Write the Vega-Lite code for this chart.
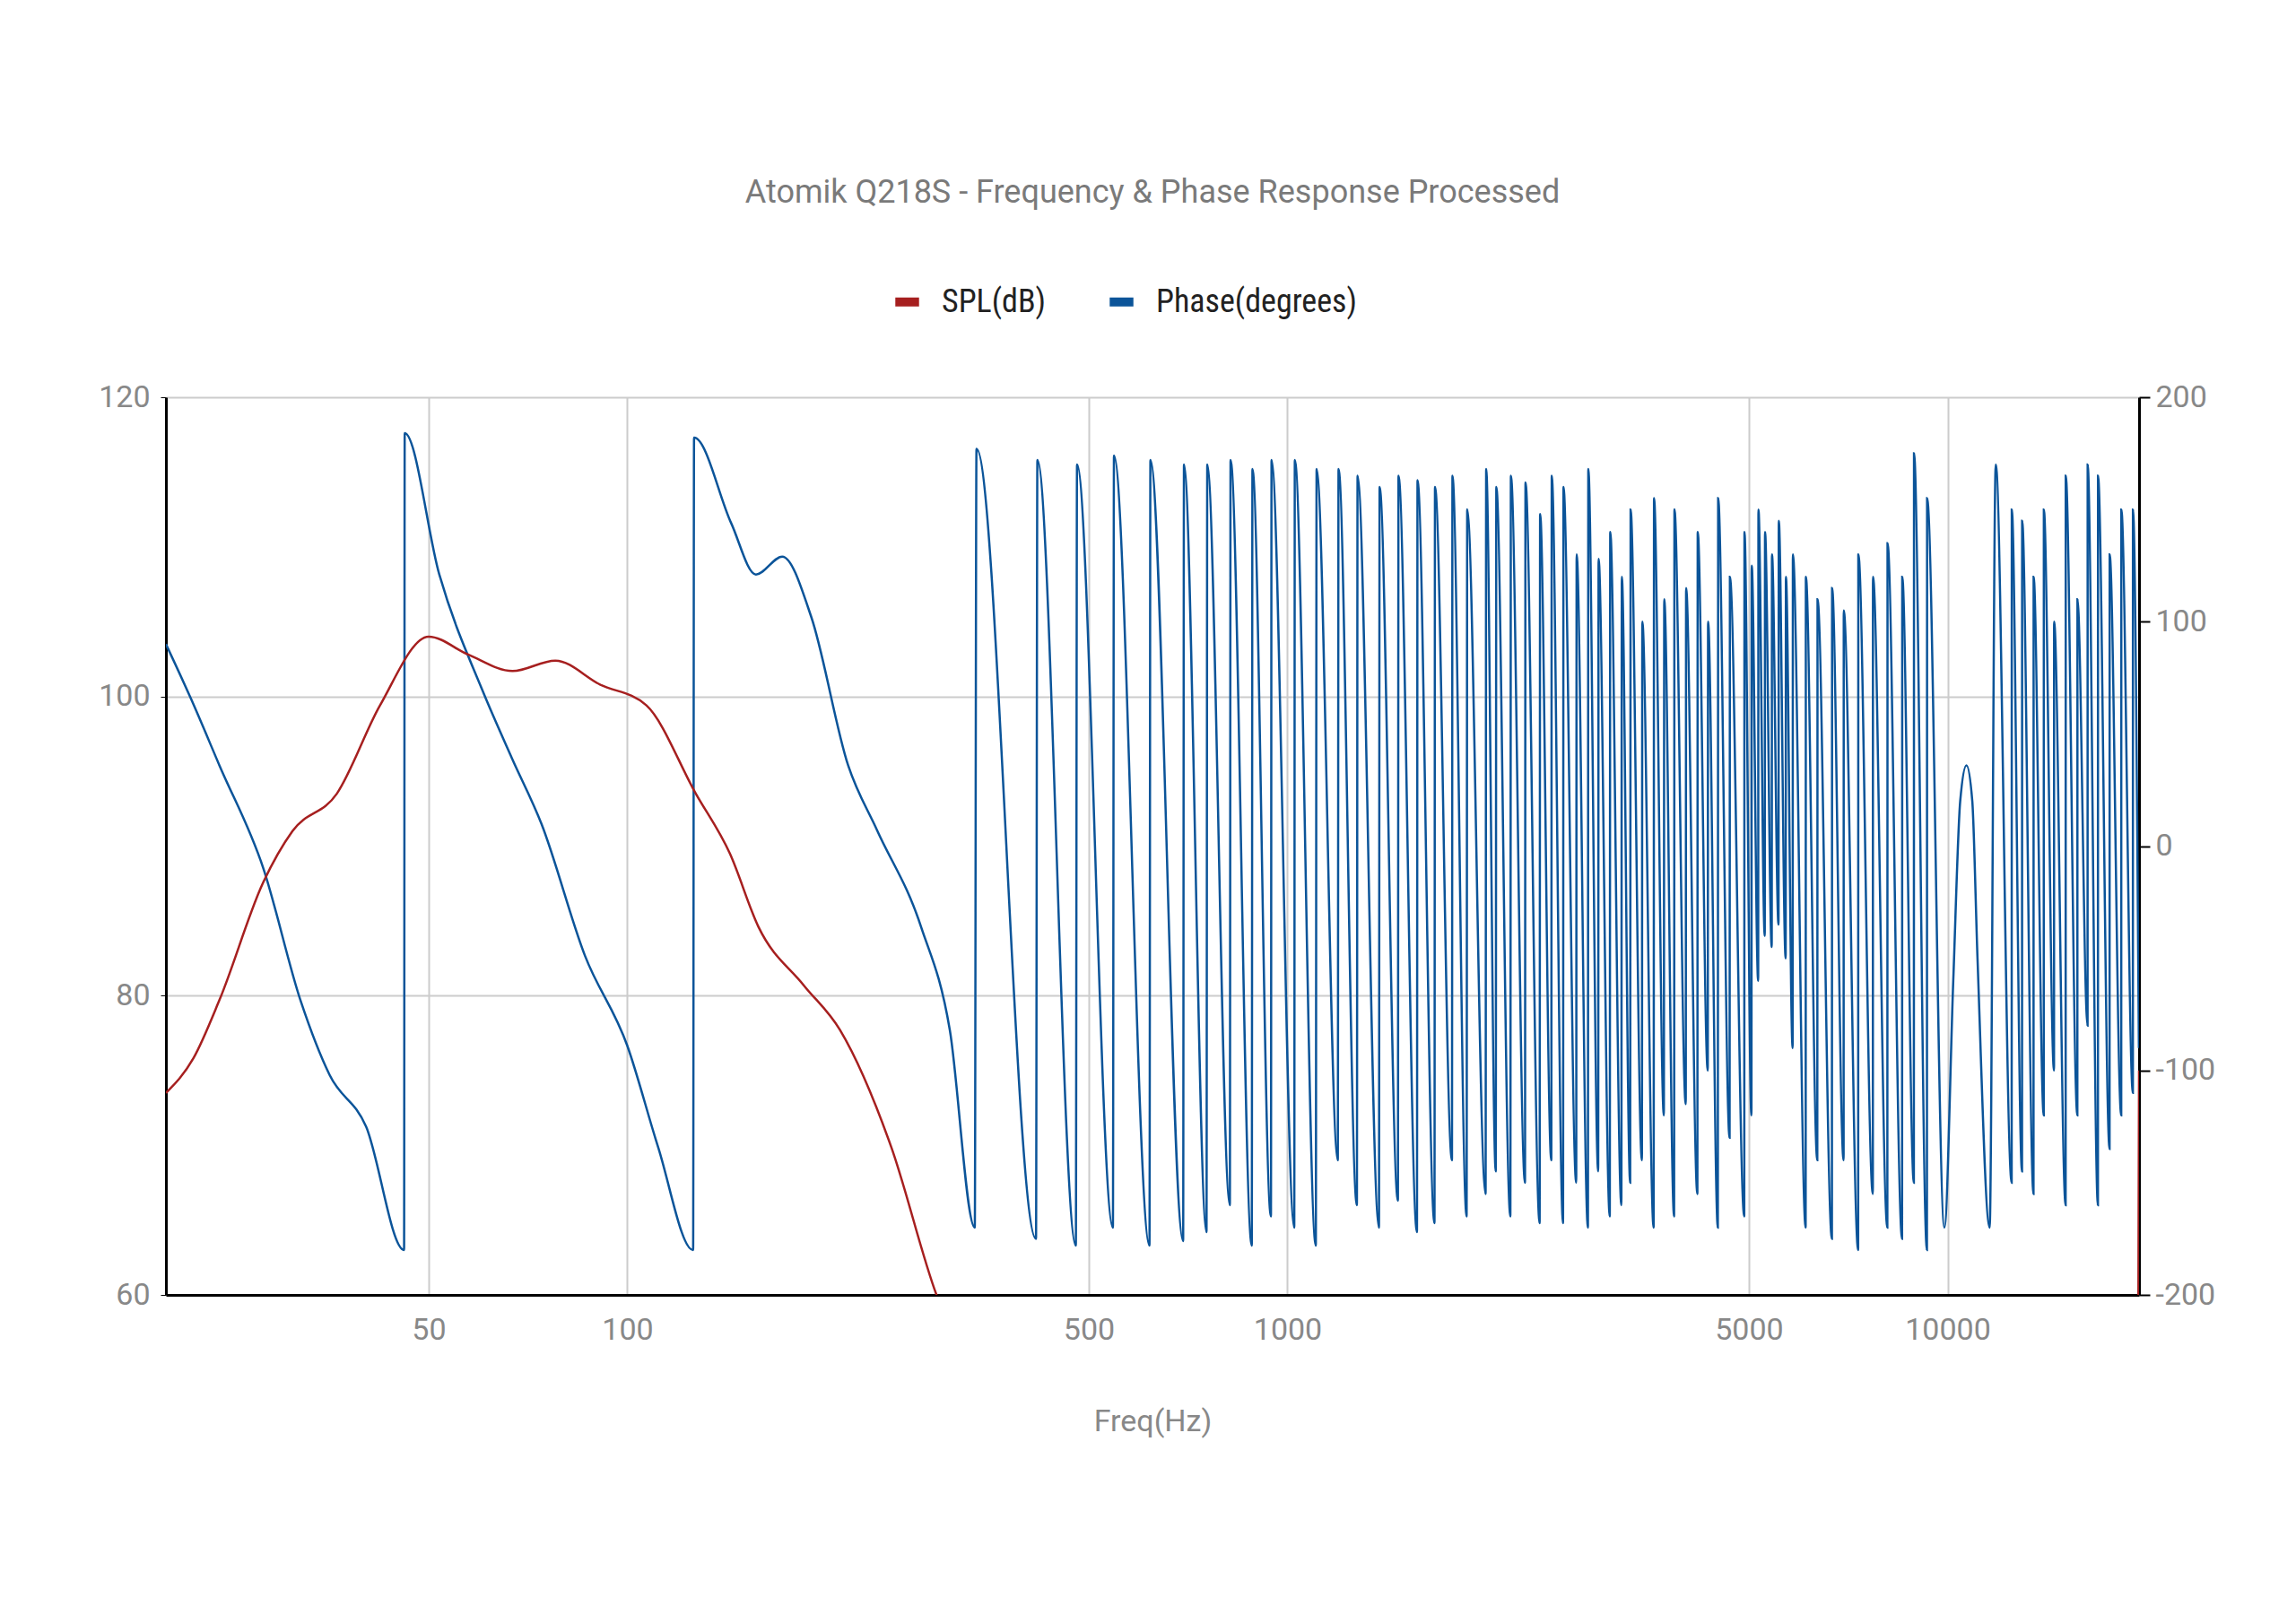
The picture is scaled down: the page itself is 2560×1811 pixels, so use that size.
{
  "$schema": "https://vega.github.io/schema/vega-lite/v6.json",
  "autosize": "none",
  "width": 2200,
  "height": 1001,
  "padding": {"left": 185, "top": 443, "right": 175, "bottom": 367},
  "background": "white",
  "title": {
    "text": "Atomik Q218S - Frequency & Phase Response Processed",
    "font": "Roboto", "fontSize": 36, "fontWeight": "normal", "color": "#7a7a7a",
    "anchor": "middle", "offset": 84
  },
  "config": {
    "view": {"stroke": null},
    "axis": {"labelFont": "Roboto", "labelFontSize": 34, "labelColor": "#888888", "titleFont": "Roboto", "titleFontWeight": "normal", "titleColor": "#888888", "titleFontSize": 34}
  },
  "datasets": {
    "spl": [
      {"f": 20, "v": 73.5}, {"f": 22, "v": 75.8}, {"f": 24.1, "v": 79.7}, {"f": 28.1, "v": 87.6}, {"f": 31.1, "v": 91},
      {"f": 36.3, "v": 93.5}, {"f": 42.2, "v": 99.4}, {"f": 50, "v": 104}, {"f": 57.4, "v": 102.8}, {"f": 67, "v": 101.7},
      {"f": 77.8, "v": 102.4}, {"f": 90.9, "v": 100.8}, {"f": 106.9, "v": 99.4}, {"f": 127, "v": 93.5}, {"f": 143, "v": 89.5},
      {"f": 158, "v": 84.6}, {"f": 185, "v": 80.7}, {"f": 210, "v": 77.7}, {"f": 251, "v": 69.9}, {"f": 294, "v": 60},
      {"f": 330, "v": 55}, {"f": 400, "v": 48}, {"f": 1000, "v": 40}, {"f": 5000, "v": 38}, {"f": 19400, "v": 40}, {"f": 19500, "v": 75}
    ],
    "phase": [
      {"f": 20, "v": 90}, {"f": 21.8, "v": 66}, {"f": 24.1, "v": 36}, {"f": 28.1, "v": -10}, {"f": 32, "v": -69},
      {"f": 35.4, "v": -102}, {"f": 40.2, "v": -125}, {"f": 45.9, "v": -180}, {"f": 46.0, "v": 184},
      {"f": 51.9, "v": 121}, {"f": 60.4, "v": 69}, {"f": 66.9, "v": 39}, {"f": 74.1, "v": 10}, {"f": 86.3, "v": -49},
      {"f": 100, "v": -89}, {"f": 111.3, "v": -134}, {"f": 125.8, "v": -180}, {"f": 126.2, "v": 182},
      {"f": 143.6, "v": 144}, {"f": 156.6, "v": 121}, {"f": 171.7, "v": 129}, {"f": 190, "v": 102}, {"f": 216, "v": 36},
      {"f": 239, "v": 7}, {"f": 278.6, "v": -36}, {"f": 308, "v": -82}, {"f": 336, "v": -170},
      {"f": 338, "v": 177}, {"f": 416, "v": -175}, {"f": 418, "v": 172}, {"f": 478, "v": -178}, {"f": 480, "v": 170}, {"f": 544, "v": -170},
      {"f": 546, "v": 174}, {"f": 618, "v": -178}, {"f": 620, "v": 172}, {"f": 695, "v": -176}, {"f": 697, "v": 170}, {"f": 754, "v": -172},
      {"f": 756, "v": 170}, {"f": 818, "v": -160}, {"f": 820, "v": 172}, {"f": 883, "v": -178}, {"f": 885, "v": 168}, {"f": 944, "v": -165},
      {"f": 946, "v": 172}, {"f": 1024, "v": -170}, {"f": 1026, "v": 172}, {"f": 1104, "v": -178}, {"f": 1107, "v": 168}, {"f": 1192, "v": -140},
      {"f": 1195, "v": 168}, {"f": 1274, "v": -160}, {"f": 1277, "v": 165}, {"f": 1376, "v": -170}, {"f": 1379, "v": 160}, {"f": 1470, "v": -158},
      {"f": 1473, "v": 165}, {"f": 1571, "v": -172}, {"f": 1574, "v": 163}, {"f": 1670, "v": -168}, {"f": 1673, "v": 160}, {"f": 1775, "v": -140},
      {"f": 1778, "v": 165}, {"f": 1868, "v": -165}, {"f": 1872, "v": 150}, {"f": 1996, "v": -155}, {"f": 2000, "v": 168}, {"f": 2068, "v": -145},
      {"f": 2072, "v": 160}, {"f": 2176, "v": -165}, {"f": 2180, "v": 165}, {"f": 2290, "v": -150}, {"f": 2294, "v": 162}, {"f": 2410, "v": -168},
      {"f": 2414, "v": 148}, {"f": 2510, "v": -140}, {"f": 2514, "v": 165}, {"f": 2615, "v": -168}, {"f": 2619, "v": 160}, {"f": 2738, "v": -150},
      {"f": 2742, "v": 130}, {"f": 2852, "v": -170}, {"f": 2856, "v": 168}, {"f": 2956, "v": -145}, {"f": 2960, "v": 128}, {"f": 3078, "v": -165},
      {"f": 3083, "v": 140}, {"f": 3205, "v": -160}, {"f": 3210, "v": 120}, {"f": 3305, "v": -150}, {"f": 3310, "v": 150}, {"f": 3443, "v": -140},
      {"f": 3448, "v": 100}, {"f": 3587, "v": -170}, {"f": 3592, "v": 155}, {"f": 3717, "v": -120}, {"f": 3722, "v": 110}, {"f": 3852, "v": -165},
      {"f": 3857, "v": 150}, {"f": 4012, "v": -115}, {"f": 4017, "v": 115}, {"f": 4178, "v": -155}, {"f": 4183, "v": 140}, {"f": 4332, "v": -100},
      {"f": 4337, "v": 100}, {"f": 4487, "v": -170}, {"f": 4492, "v": 155}, {"f": 4675, "v": -130}, {"f": 4680, "v": 120}, {"f": 4920, "v": -165},
      {"f": 4924, "v": 140}, {"f": 5045, "v": -120}, {"f": 5050, "v": 125}, {"f": 5165, "v": -60}, {"f": 5170, "v": 150}, {"f": 5285, "v": -40},
      {"f": 5290, "v": 140}, {"f": 5415, "v": -45}, {"f": 5420, "v": 130}, {"f": 5545, "v": -35}, {"f": 5550, "v": 145}, {"f": 5685, "v": -50},
      {"f": 5690, "v": 120}, {"f": 5825, "v": -90}, {"f": 5830, "v": 130}, {"f": 6095, "v": -170}, {"f": 6100, "v": 120}, {"f": 6348, "v": -140},
      {"f": 6353, "v": 110}, {"f": 6680, "v": -175}, {"f": 6684, "v": 115}, {"f": 6958, "v": -140}, {"f": 6962, "v": 105}, {"f": 7320, "v": -180},
      {"f": 7325, "v": 130}, {"f": 7705, "v": -155}, {"f": 7709, "v": 120}, {"f": 8105, "v": -170}, {"f": 8110, "v": 135}, {"f": 8532, "v": -175},
      {"f": 8537, "v": 120}, {"f": 8890, "v": -150}, {"f": 8895, "v": 175}, {"f": 9305, "v": -180}, {"f": 9310, "v": 155}, {"f": 9890, "v": -170},
      {"f": 10200, "v": -60}, {"f": 10450, "v": 20}, {"f": 10680, "v": 36}, {"f": 10900, "v": 20}, {"f": 11100, "v": -50}, {"f": 11580, "v": -170},
      {"f": 11830, "v": 170}, {"f": 12505, "v": -150}, {"f": 12510, "v": 150}, {"f": 12965, "v": -145}, {"f": 12970, "v": 145}, {"f": 13495, "v": -155},
      {"f": 13500, "v": 120}, {"f": 13985, "v": -120}, {"f": 13990, "v": 150}, {"f": 14495, "v": -100}, {"f": 14500, "v": 100}, {"f": 15095, "v": -160},
      {"f": 15100, "v": 165}, {"f": 15725, "v": -120}, {"f": 15730, "v": 110}, {"f": 16295, "v": -80}, {"f": 16300, "v": 170}, {"f": 16895, "v": -160},
      {"f": 16900, "v": 165}, {"f": 17595, "v": -135}, {"f": 17600, "v": 130}, {"f": 18325, "v": -120}, {"f": 18330, "v": 150}, {"f": 19085, "v": -110},
      {"f": 19090, "v": 150}, {"f": 19490, "v": -90}
    ]
  },
  "encoding": {
    "x": {
      "field": "f", "type": "quantitative", "title": "Freq(Hz)",
      "scale": {"type": "log", "domain": [20, 19500], "nice": false},
      "axis": {"values": [50, 100, 500, 1000, 5000, 10000], "format": "d", "grid": true, "gridColor": "#cccccc", "gridWidth": 2,
               "domainColor": "#000000", "domainWidth": 3, "ticks": false, "labelPadding": 22, "titlePadding": 68}
    },
    "color": {
      "scale": {"domain": ["SPL(dB)", "Phase(degrees)"], "range": ["#a61f1f", "#0b5499"]},
      "legend": {"orient": "none", "legendX": 808, "legendY": -125, "direction": "horizontal", "title": null,
                 "symbolType": "stroke", "symbolStrokeWidth": 10, "symbolSize": 700, "labelFont": "Roboto Condensed, Roboto",
                 "labelFontSize": 36, "labelColor": "#222222", "labelLimit": 600, "columnPadding": 50, "labelOffset": 20}
    }
  },
  "layer": [
    {
      "data": {"name": "phase"},
      "mark": {"type": "line", "strokeWidth": 2.5, "clip": true, "interpolate": "monotone"},
      "encoding": {
        "y": {"field": "v", "type": "quantitative", "title": null,
              "scale": {"domain": [-200, 200], "nice": false},
              "axis": {"orient": "right", "values": [-200, -100, 0, 100, 200], "grid": false, "domainColor": "#000000",
                       "labelExpr": "replace(datum.label, '−', '-')",
                       "domainWidth": 3, "tickColor": "#000000", "tickSize": 12, "tickWidth": 2, "labelPadding": 6}},
        "color": {"datum": "Phase(degrees)"}
      }
    },
    {
      "data": {"name": "spl"},
      "mark": {"type": "line", "strokeWidth": 2.5, "clip": true, "interpolate": "monotone"},
      "encoding": {
        "y": {"field": "v", "type": "quantitative", "title": null,
              "scale": {"domain": [60, 120], "nice": false},
              "axis": {"orient": "left", "values": [60, 80, 100, 120], "grid": true, "gridColor": "#cccccc", "gridWidth": 2,
                       "domainColor": "#000000", "domainWidth": 3, "tickColor": "#000000", "tickSize": 6, "labelPadding": 12}},
        "color": {"datum": "SPL(dB)"}
      }
    }
  ],
  "resolve": {"scale": {"y": "independent"}}
}
